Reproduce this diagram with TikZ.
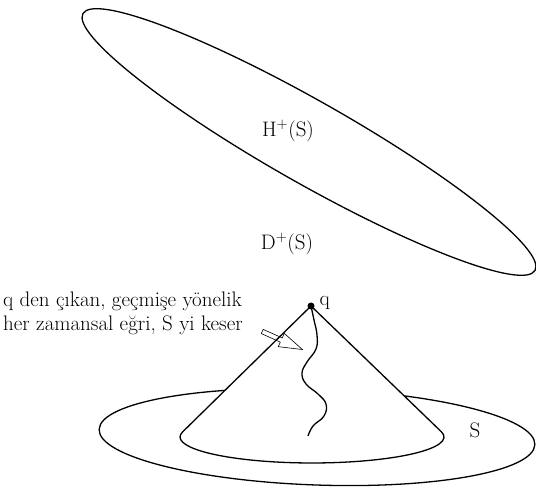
\documentclass[tikz,border=0pt]{standalone}
\usepackage{fontspec}
\usetikzlibrary{shapes.arrows}

\begin{document}
\begin{tikzpicture}[x=1pt,y=-1pt,every node/.style={font=\fontsize{21}{24}\selectfont},
  outline/.style={line width=1.3pt,line join=round}]
  \useasboundingbox (0,0) rectangle (536,489);
  % future Cauchy horizon and domain of dependence
  \coordinate (hc) at (309,142);
  \draw[outline,rotate around={-29.6:(hc)}] (hc) ellipse [x radius=260pt,y radius=41pt];
  \node (horizon) at (288,131) {H\textsuperscript{+}(S)};
  \node (domain) at (287,244) {D\textsuperscript{+}(S)};
  % surface S
  \coordinate (sc) at (317,437);
  \draw[outline,rotate around={-2:(sc)}] (sc) ellipse [x radius=218pt,y radius=48pt];
  \node (surf) at (475,430) {S};
  % past cone of q
  \coordinate (apex) at (311,306);
  \draw[outline,fill=white] (apex) -- (182.7,431.8)
    arc[start angle=168.5,end angle=371.5,x radius=132pt,y radius=26pt] -- cycle;
  \draw[outline] plot[smooth,tension=.7] coordinates {(311,306) (314,320) (317,335) (316,349)
    (307,362) (302,373) (306,384) (318,394) (326,404) (324,416) (313,426) (308,436)};
  \node[circle,fill,inner sep=0,minimum size=7pt] (q) at (apex) {};
  \node[anchor=west] (qlabel) at (316,303) {q};
  % caption and pointer
  \node[anchor=north west,align=left,inner sep=0] (caption) at (3,292)
    {q den çıkan, geçmişe yönelik\\her zamansal eğri, S yi keser};
  \node[single arrow,draw,line width=.6pt,inner sep=2pt,minimum height=44pt,
    single arrow head extend=5pt,single arrow tip angle=35,rotate=-24.2] (pointer) at (279,339) {};
\end{tikzpicture}
\end{document}
